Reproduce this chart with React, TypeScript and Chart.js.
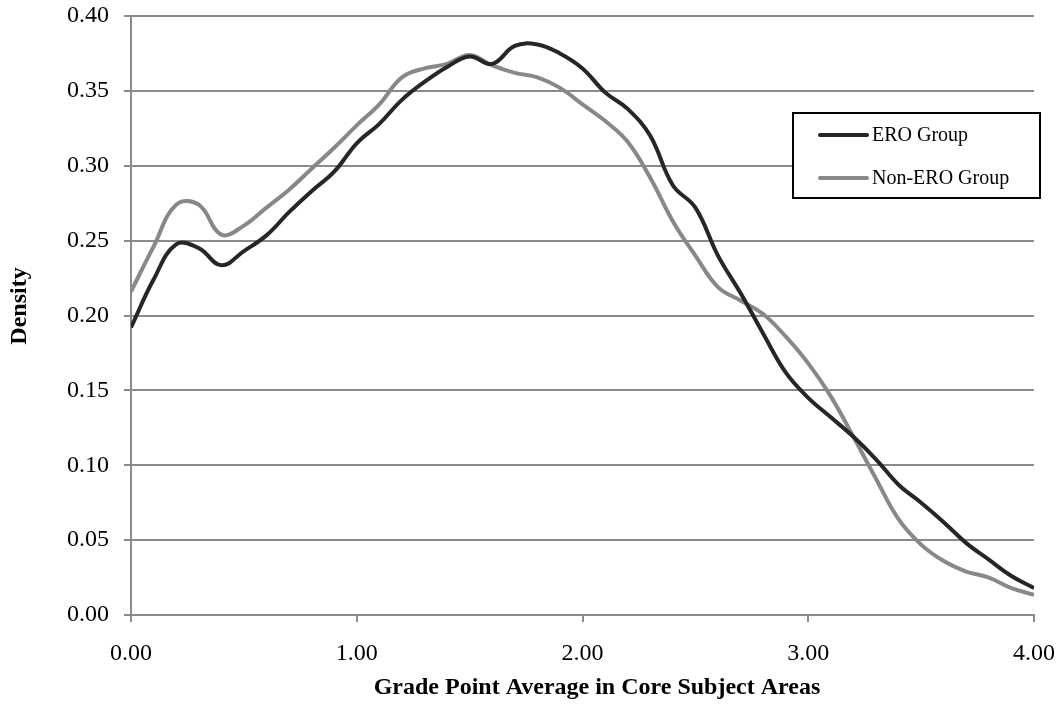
import React, { useEffect, useRef } from "react";
import { Chart, registerables } from "chart.js";

Chart.register(...registerables);

const gpa = [
  0.0, 0.1, 0.2, 0.3, 0.4, 0.5, 0.6, 0.7, 0.8, 0.9,
  1.0, 1.1, 1.2, 1.3, 1.4, 1.5, 1.6, 1.7, 1.8, 1.9,
  2.0, 2.1, 2.2, 2.3, 2.4, 2.5, 2.6, 2.7, 2.8, 2.9,
  3.0, 3.1, 3.2, 3.3, 3.4, 3.5, 3.6, 3.7, 3.8, 3.9, 4.0,
];

const eroGroup = [
  0.192, 0.224, 0.2475, 0.245, 0.2335, 0.243, 0.2535, 0.269, 0.283, 0.296,
  0.315, 0.328, 0.344, 0.356, 0.366, 0.373, 0.368, 0.38, 0.381, 0.375,
  0.365, 0.349, 0.338, 0.32, 0.287, 0.272, 0.24, 0.215, 0.188, 0.162,
  0.145, 0.132, 0.119, 0.104, 0.087, 0.075, 0.062, 0.048, 0.037, 0.026, 0.018,
];

const nonEroGroup = [
  0.216, 0.246, 0.274, 0.274, 0.254, 0.26, 0.272, 0.284, 0.298, 0.312,
  0.327, 0.341, 0.359, 0.365, 0.368, 0.374, 0.367, 0.362, 0.359, 0.352,
  0.341, 0.33, 0.316, 0.292, 0.263, 0.24, 0.219, 0.21, 0.201, 0.186,
  0.168, 0.146, 0.119, 0.091, 0.064, 0.047, 0.036, 0.029, 0.025, 0.018, 0.0135,
];

const seriesLabels = ["ERO Group", "Non-ERO Group"];
const xTitle = "Grade Point Average in Core Subject Areas";
const yTitle = "Density";

const SERIF = "'Liberation Serif', 'Times New Roman', serif";
const BLACK = "#262626";
const GRAY = "#888888";
const GRID = "#8a8a8a";

const overlayPlugin = {
  id: "overlay",
  afterDraw(chart: any) {
    const ctx = chart.ctx as CanvasRenderingContext2D;
    ctx.save();
    ctx.fillStyle = "#000";
    ctx.font = `bold 24px ${SERIF}`;
    ctx.textAlign = "center";
    ctx.textBaseline = "middle";
    ctx.fillText(xTitle, 597, 688);
    ctx.save();
    ctx.translate(20, 306);
    ctx.rotate(-Math.PI / 2);
    ctx.fillText(yTitle, 0, 0);
    ctx.restore();

    const bx = 793, by = 113, bw = 247, bh = 85;
    ctx.fillStyle = "#fff";
    ctx.fillRect(bx, by, bw, bh);
    ctx.strokeStyle = "#000";
    ctx.lineWidth = 2;
    ctx.strokeRect(bx, by, bw, bh);
    const rows = [135, 178];
    chart.data.datasets.forEach((ds: any, i: number) => {
      const y = rows[i];
      ctx.strokeStyle = ds.borderColor;
      ctx.lineWidth = 4;
      ctx.lineCap = "round";
      ctx.beginPath();
      ctx.moveTo(820, y);
      ctx.lineTo(867, y);
      ctx.stroke();
      ctx.fillStyle = "#000";
      ctx.font = `20px ${SERIF}`;
      ctx.textAlign = "left";
      ctx.textBaseline = "middle";
      ctx.fillText(ds.label, 872, y + 1);
    });
    ctx.restore();
  },
};

export default function App() {
  const ref = useRef<HTMLCanvasElement | null>(null);

  useEffect(() => {
    document.body.style.margin = "0";
    if (!ref.current) return;
    const chart = new Chart(ref.current, {
      type: "line",
      data: {
        datasets: [
          {
            label: seriesLabels[0],
            data: gpa.map((x, i) => ({ x, y: eroGroup[i] })),
            borderColor: BLACK,
            backgroundColor: BLACK,
            borderWidth: 4,
            pointRadius: 0,
            tension: 0.4,
            fill: false,
          },
          {
            label: seriesLabels[1],
            data: gpa.map((x, i) => ({ x, y: nonEroGroup[i] })),
            borderColor: GRAY,
            backgroundColor: GRAY,
            borderWidth: 4,
            pointRadius: 0,
            tension: 0.4,
            fill: false,
          },
        ],
      },
      options: {
        animation: false,
        responsive: false,
        maintainAspectRatio: false,
        events: [],
        layout: { padding: { top: 16, right: 24, left: 0, bottom: 0 } },
        plugins: {
          legend: { display: false },
          tooltip: { enabled: false },
          title: { display: false },
        },
        scales: {
          x: {
            type: "linear",
            min: 0,
            max: 4,
            afterFit: (s: any) => {
              s.height = 95;
              s.paddingLeft = 0;
              s.paddingRight = 0;
            },
            ticks: {
              stepSize: 1,
              callback: (v: any) => Number(v).toFixed(2),
              font: { family: SERIF, size: 24 },
              color: "#000",
              padding: 17,
              maxRotation: 0,
            },
            grid: {
              drawOnChartArea: false,
              drawTicks: true,
              tickLength: 7,
              color: GRID,
              lineWidth: 2,
            },
            border: { display: true, color: GRID, width: 2 },
          },
          y: {
            type: "linear",
            min: 0,
            max: 0.4,
            afterFit: (s: any) => {
              s.width = 131;
              s.paddingTop = 0;
              s.paddingBottom = 0;
            },
            ticks: {
              stepSize: 0.05,
              callback: (v: any) => Number(v).toFixed(2),
              font: { family: SERIF, size: 24 },
              color: "#000",
              padding: 15,
            },
            grid: {
              drawOnChartArea: true,
              drawTicks: true,
              tickLength: 7,
              color: GRID,
              lineWidth: 2,
            },
            border: { display: true, color: GRID, width: 2 },
          },
        },
      },
      plugins: [overlayPlugin],
    } as any);
    return () => chart.destroy();
  }, []);

  return (
    <div style={{ width: 1058, height: 710, background: "#fff" }}>
      <canvas ref={ref} width={1058} height={710} style={{ display: "block" }} />
    </div>
  );
}
